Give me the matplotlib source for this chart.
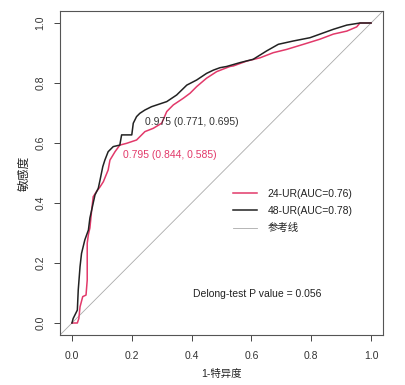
import matplotlib
matplotlib.use("Agg")
import matplotlib.pyplot as plt

plt.rcParams['font.family'] = ['Liberation Sans', 'Noto Sans CJK SC', 'DejaVu Sans']

# 48-UR ROC curve (1-specificity, sensitivity)
fpr_48 = [0, 0.004, 0.018, 0.021, 0.027, 0.032, 0.043, 0.055, 0.06, 0.066, 0.077, 0.088,
          0.094, 0.103, 0.11, 0.121, 0.138, 0.16, 0.166, 0.2, 0.205, 0.216, 0.227, 0.244,
          0.266, 0.317, 0.35, 0.384, 0.417, 0.45, 0.473, 0.495, 0.517, 0.562, 0.606, 0.651,
          0.69, 0.74, 0.796, 0.874, 0.919, 0.963, 1.0]
tpr_48 = [0, 0.015, 0.043, 0.11, 0.188, 0.232, 0.277, 0.31, 0.35, 0.377, 0.427, 0.449,
          0.477, 0.521, 0.543, 0.571, 0.588, 0.593, 0.627, 0.627, 0.666, 0.688, 0.699, 0.71,
          0.721, 0.738, 0.76, 0.793, 0.81, 0.832, 0.843, 0.851, 0.855, 0.868, 0.879, 0.907,
          0.929, 0.94, 0.951, 0.979, 0.993, 1.0, 1.0]

# 24-UR ROC curve
fpr_24 = [0, 0.018, 0.023, 0.027, 0.036, 0.047, 0.051, 0.051, 0.055, 0.06, 0.066, 0.071,
          0.082, 0.094, 0.105, 0.121, 0.127, 0.144, 0.16, 0.183, 0.216, 0.233, 0.244, 0.272,
          0.3, 0.317, 0.339, 0.372, 0.395, 0.417, 0.45, 0.484, 0.528, 0.54, 0.584, 0.629,
          0.673, 0.718, 0.774, 0.829, 0.874, 0.919, 0.952, 0.963, 1.0]
tpr_24 = [0, 0, 0.015, 0.054, 0.088, 0.093, 0.143, 0.266, 0.295, 0.317, 0.377, 0.421,
          0.438, 0.454, 0.471, 0.51, 0.543, 0.571, 0.593, 0.599, 0.61, 0.627, 0.638, 0.649,
          0.666, 0.705, 0.727, 0.749, 0.766, 0.788, 0.816, 0.838, 0.855, 0.857, 0.873, 0.884,
          0.901, 0.912, 0.929, 0.946, 0.963, 0.973, 0.987, 1.0, 1.0]

labels = ['24-UR(AUC=0.76)', '48-UR(AUC=0.78)', '参考线']
colors = ['#E2396A', '#222222', '#AAAAAA']

# best thresholds: (threshold, specificity, sensitivity)
thr_24 = (0.795, 0.844, 0.585)
thr_48 = (0.975, 0.771, 0.695)

p_text = 'Delong-test P value = 0.056'
ticks = [0.0, 0.2, 0.4, 0.6, 0.8, 1.0]

fig = plt.figure(figsize=(4.06, 3.85), dpi=100)
ax = fig.add_axes([60/406, 50/385, 323/406, 324/385])

l0 = ax.axline((0, 0), (1, 1), color=colors[2], lw=0.6, label=labels[2])
l1, = ax.plot(fpr_24, tpr_24, color=colors[0], lw=1.1, label=labels[0])
l2, = ax.plot(fpr_48, tpr_48, color=colors[1], lw=1.1, label=labels[1])

for thr, col in [(thr_48, '#333333'), (thr_24, colors[0])]:
    t, sp, se = thr
    ax.annotate(f'{t:.3f} ({sp:.3f}, {se:.3f})', xy=(1 - sp, se), xytext=(4.5, -7.5),
                textcoords='offset pixels', ha='left', va='center', fontsize=7.5, color=col)

ax.text(0.405, 0.097, p_text, fontsize=7.5, color='#222222', ha='left', va='center')

ax.set_xlim(-0.04, 1.04)
ax.set_ylim(-0.04, 1.04)
ax.set_xticks(ticks)
ax.set_yticks(ticks)
ax.set_xticklabels([f'{v:.1f}' for v in ticks])
ax.set_yticklabels([f'{v:.1f}' for v in ticks], rotation=90, va='center')
ax.tick_params(axis='both', direction='out', length=4.3, width=0.7, color='#444444',
               labelsize=7.5, labelcolor='#333333')
ax.tick_params(axis='x', pad=7)
ax.tick_params(axis='y', pad=6)
for s in ax.spines.values():
    s.set_color('#555555')
    s.set_linewidth(0.8)

ax.set_xlabel('1-特异度', fontsize=7.5, color='#222222')
ax.set_ylabel('敏感度', fontsize=8.5, color='#222222')
ax.xaxis.set_label_coords(0.5, -0.105)
ax.yaxis.set_label_coords(-0.09, 0.5)

ax.legend(handles=[l1, l2, l0], labels=labels, loc='upper left',
          bbox_to_anchor=(0.538, 0.448), bbox_transform=ax.transData,
          frameon=False, fontsize=7.5, handlelength=2.3, handletextpad=1.05,
          labelspacing=0.7, borderpad=0, borderaxespad=0, labelcolor='#222222')

fig.savefig('out.png', dpi=100)
